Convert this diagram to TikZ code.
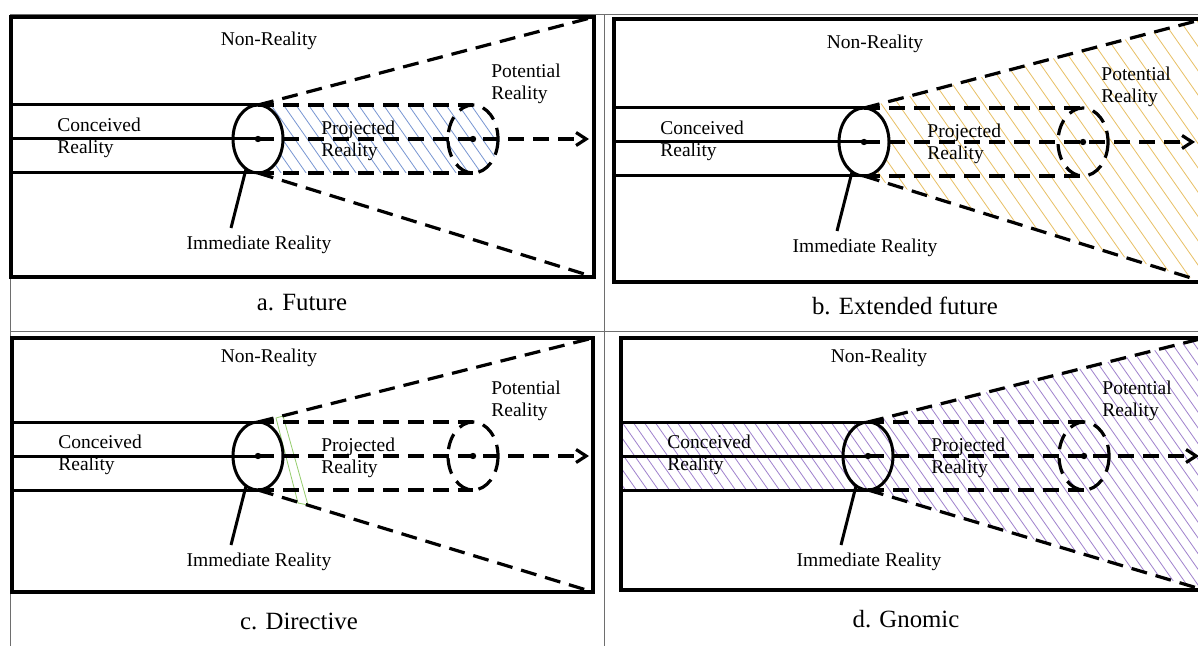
\documentclass[tikz,border=0pt]{standalone}
\usepackage{fontspec}
\setmainfont{Liberation Serif}
\usetikzlibrary{arrows.meta}
\definecolor{hatchblue}{RGB}{120,150,210}
\definecolor{hatchgold}{RGB}{232,192,100}
\definecolor{hatchgreen}{RGB}{150,205,110}
\definecolor{hatchpurple}{RGB}{160,130,205}
\definecolor{tablegray}{RGB}{110,110,110}
\tikzset{
  panelframe/.style={line width=2.25pt, line join=miter},
  solidline/.style={line width=1.5pt},
  dashline/.style={line width=1.6pt, dash pattern=on 8pt off 4.5pt},
  tableline/.style={line width=0.5pt, draw=tablegray},
  hatchline/.style={line width=0.4pt},
  lbl/.style={inner sep=0pt, font=\fontsize{9.75}{10.75}\selectfont},
  captext/.style={inner sep=0pt, font=\fontsize{12.4}{14}\selectfont},
  arrowtip/.style={-{Straight Barb[length=5pt,width=6.5pt]}}
}
% #1 prefix, #2 frame left, #3 frame top, #4 frame right, #5 frame bottom,
% #6 ellipse centre x, #7 centre y, #8 dashed circle centre x
\newcommand\drawpanel[8]{%
  \coordinate (#1tl) at (#2,#3);
  \coordinate (#1tr) at (#4,#3);
  \coordinate (#1br) at (#4,#5);
  \coordinate (#1c)  at (#6,#7);
  \coordinate (#1et) at ({#6},{#7-34});
  \coordinate (#1eb) at ({#6},{#7+34});
  \coordinate (#1lt) at ({#2},{#7-34});
  \coordinate (#1lm) at ({#2},{#7});
  \coordinate (#1lb) at ({#2},{#7+34});
  \coordinate (#1cc) at ({#8},{#7});
  \coordinate (#1ct) at ({#8},{#7-34});
  \coordinate (#1cb) at ({#8},{#7+34});
  \coordinate (#1tip) at ({#6+331},{#7});
  \coordinate (#1ps) at ({#6-12},{#7+30});
  \coordinate (#1pe) at ({#6-27},{#7+89});
  \draw[panelframe] (#1tl) rectangle (#1br);
  \draw[solidline] (#1lt) -- (#1et);
  \draw[solidline] (#1lm) -- (#1c);
  \draw[solidline] (#1lb) -- (#1eb);
  \draw[dashline] (#1et) -- (#1tr);
  \draw[dashline] (#1eb) -- (#1br);
  \draw[dashline] (#1et) -- (#1ct);
  \draw[dashline] (#1eb) -- (#1cb);
  \draw[dashline] (#1cc) ellipse[x radius=25, y radius=34];
  \draw[dashline,arrowtip] (#1c) -- (#1tip);
  \draw[solidline] (#1c) ellipse[x radius=25, y radius=34];
  \fill (#1c) circle[radius=3.2];
  \fill (#1cc) circle[radius=3.2];
  \draw[solidline] (#1ps) -- (#1pe);
  \node[lbl] (#1non) at ({#6+11},{#7-98}) {Non-Reality};
  \node[lbl,align=left,anchor=west] (#1pot) at ({#8+18},{#7-55}) {Potential\\Reality};
  \node[lbl,align=left,anchor=west] (#1con) at ({#2+46},{#7-1}) {Conceived\\Reality};
  \node[lbl,align=left,anchor=west] (#1pro) at ({#6+63},{#7+2}) {Projected\\Reality};
  \node[lbl] (#1imm) at ({#6+1},{#7+106}) {Immediate Reality};
}
\begin{document}
\begin{tikzpicture}[x=0.5pt,y=-0.5pt]
\useasboundingbox (0,0) rectangle (1198,646);
\clip (0,0) rectangle (1198,646);
\fill[white] (0,0) rectangle (1198,646);
% table rules
\coordinate (t1) at (10,15);
\coordinate (t2) at (1198,15);
\coordinate (t3) at (10,646);
\coordinate (t4) at (604,15);
\coordinate (t5) at (604,646);
\coordinate (t6) at (10,332);
\coordinate (t7) at (1198,332);
\draw[tableline] (t1) -- (t2);
\draw[tableline] (t1) -- (t3);
\draw[tableline] (t4) -- (t5);
\draw[tableline] (t6) -- (t7);
% hatching a
\begin{scope}
  \clip (258,105) -- (473,105) arc[start angle=-90,end angle=90,x radius=25,y radius=34]
        -- (258,173) arc[start angle=90,end angle=-90,x radius=25,y radius=34] -- cycle;
  \foreach \i in {0,...,45} \draw[hatchline,hatchblue] ({\i*12.5-20},100) -- ++(210,300);
\end{scope}
% hatching b
\begin{scope}
  \clip (864,108) -- (1204,19) -- (1204,282) -- (864,176)
        arc[start angle=90,end angle=-90,x radius=25,y radius=34] -- cycle;
  \foreach \i in {0,...,32} \draw[hatchline,hatchgold] ({700+\i*17},15) -- ++(210,300);
\end{scope}
% band c
\draw[hatchline,hatchgreen] (276,418) -- (283,416) -- (308,505) -- (298,503) -- cycle;
% hatching d
\begin{scope}
  \clip (621,422) -- (868,422) -- (1204,338) -- (1204,590) -- (868,490) -- (621,490) -- cycle;
  \foreach \i in {0,...,72} \draw[hatchline,hatchpurple] ({440+\i*11},335) -- ++(210,300);
\end{scope}
% panels
\drawpanel{a}{11}{17}{594}{277}{258}{139}{473}
\drawpanel{b}{614}{19}{1204}{282}{864}{142}{1083}
\drawpanel{c}{12}{338}{593}{592}{258}{456}{473}
\drawpanel{d}{621}{338}{1204}{590}{868}{456}{1084}
% captions
\node[captext] (capa) at (302,303) {a. Future};
\node[captext] (capb) at (905,306) {b. Extended future};
\node[captext] (capc) at (299,621) {c. Directive};
\node[captext] (capd) at (906,619) {d. Gnomic};
\end{tikzpicture}
\end{document}
